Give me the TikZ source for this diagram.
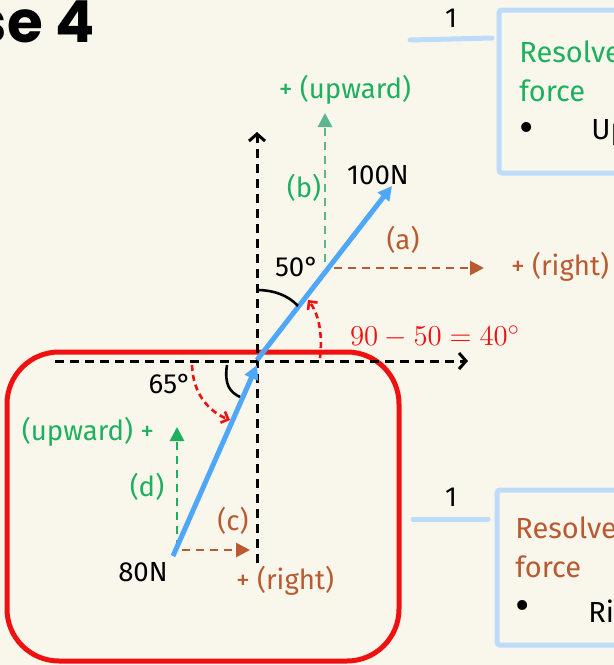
\documentclass[tikz,border=0pt]{standalone}
\usepackage{fontspec}
\setmainfont{Fira Sans}
\newfontfamily\handfont{Poppins}
\usetikzlibrary{arrows.meta}
\definecolor{paper}{HTML}{F9F7EC}
\definecolor{forceblue}{HTML}{4FA7FA}
\definecolor{boxblue}{HTML}{BDDCF9}
\definecolor{compgreen}{HTML}{1DB05E}
\definecolor{compteal}{HTML}{5BB58E}
\definecolor{compbrown}{HTML}{B95A30}
\definecolor{markred}{HTML}{F01010}
\begin{document}
\begin{tikzpicture}[x=0.5pt, y=-0.5pt,
		every node/.style={font=\fontsize{13.8}{16}\selectfont, inner sep=0pt},
		axis/.style={line width=1.5pt, dash pattern=on 4.5pt off 3pt, -{Straight Barb[length=3.5pt,width=8pt]}},
		force/.style={forceblue, line width=2.5pt, -{Triangle[length=7pt,width=7pt]}},
		comp/.style={line width=1.4pt, dash pattern=on 4pt off 3pt, -{Triangle[length=7pt,width=7pt]}},
		turn/.style={markred, line width=1.3pt, dash pattern=on 3pt off 2pt, -{Straight Barb[length=3pt,width=6pt]}},
		angle/.style={line width=1.3pt},
		notebox/.style={boxblue, line width=2.5pt, rounded corners=1.5pt},
		boxtext/.style={anchor=west, font=\fontsize{14.5}{17}\selectfont},
		bullet/.style={font=\fontsize{22}{24}\selectfont},
	]
	\useasboundingbox (0,0) rectangle (614,665);
	\fill[paper] (0,0) rectangle (614,665);
	\clip (0,0) rectangle (614,665);

	% title
	\node[anchor=base east, font=\handfont\bfseries\fontsize{29}{32}\selectfont] (title) at (95,42) {se 4};

	% key points
	\coordinate (O)      at (257,360);
	\coordinate (yTop)   at (257,132);
	\coordinate (yBot)   at (257,563);
	\coordinate (xLeft)  at (55,361);
	\coordinate (xRight) at (468,361);
	\coordinate (tipA)   at (392,186);
	\coordinate (tail80) at (173,556);
	\coordinate (tip80)  at (257,365);

	% working frame
	\draw[markred, line width=2.5pt, rounded corners=26pt] (7,352) rectangle (399,661);

	% axes
	\draw[axis] (yBot) -- (yTop);
	\draw[axis] (xLeft) -- (xRight);

	% 100N and its components
	\coordinate (a0) at (334,268);
	\coordinate (a1) at (484,268);
	\coordinate (b0) at (325,262);
	\coordinate (b1) at (325,113);
	\draw[comp, compteal] (b0) -- (b1);
	\draw[comp, compbrown] (a0) -- (a1);
	\draw[force] (O) -- (tipA);

	\node[compgreen] (upB)    at (345,90)  {+ (upward)};
	\node[compgreen] (labB)   at (304,188) {(b)};
	\node            (f100)   at (378,175) {100N};
	\node[compbrown] (labA)   at (403,240) {(a)};
	\node[compbrown] (rightA) at (560,267) {+ (right)};
	\node            (deg50)  at (297,267) {50°};
	\node[markred, font=\fontsize{15.5}{18}\selectfont] (calc) at (435,337) {$90-50=40^\circ$};

	\draw[angle] (257,290) .. controls (273,290) and (288,295) .. (298,306);
	\draw[turn] (320,358) .. controls (323,332) and (318,313) .. (308,300);

	% 80N and its components
	\coordinate (c0) at (182,550);
	\coordinate (c1) at (250,550);
	\coordinate (d0) at (177,548);
	\coordinate (d1) at (177,427);
	\draw[comp, compgreen] (d0) -- (d1);
	\draw[comp, compbrown] (c0) -- (c1);
	\draw[force] (tail80) -- (tip80);

	\node            (deg65)  at (170,384) {65°};
	\node[compgreen] (upD)    at (88,432)  {(upward) +};
	\node[compgreen] (labD)   at (147,487) {(d)};
	\node[compbrown] (labC)   at (233,521) {(c)};
	\node            (f80)    at (143,572) {80N};
	\node[compbrown] (rightC) at (285,581) {+ (right)};

	\draw[angle] (227,365) .. controls (224,385) and (230,392) .. (240,397);
	\draw[turn] (192,365) .. controls (193,395) and (210,412) .. (230,420);

	% notes
	\draw[notebox] (499,10) rectangle (660,173);
	\coordinate (n1a) at (410,40);
	\coordinate (n1b) at (492,38);
	\draw[boxblue, line width=2.5pt, line cap=round] (n1a) -- (n1b);
	\node (num1) at (451,18) {1};
	\node[boxtext, compgreen] (res1)  at (519,52)  {Resolve};
	\node[boxtext, compgreen] (frc1)  at (519,91)  {force};
	\node[bullet]             (bul1)  at (527,133) {•};
	\node[boxtext]            (txt1)  at (591,133) {Up};

	\draw[notebox] (497,490) rectangle (660,645);
	\coordinate (n2a) at (413,519);
	\coordinate (n2b) at (488,519);
	\draw[boxblue, line width=2.5pt, line cap=round] (n2a) -- (n2b);
	\node (num2) at (451,497) {1};
	\node[boxtext, compbrown] (res2)  at (515,528) {Resolve};
	\node[boxtext, compbrown] (frc2)  at (515,567) {force};
	\node[bullet]             (bul2)  at (523,611) {•};
	\node[boxtext]            (txt2)  at (588,611) {Ri};
\end{tikzpicture}
\end{document}
